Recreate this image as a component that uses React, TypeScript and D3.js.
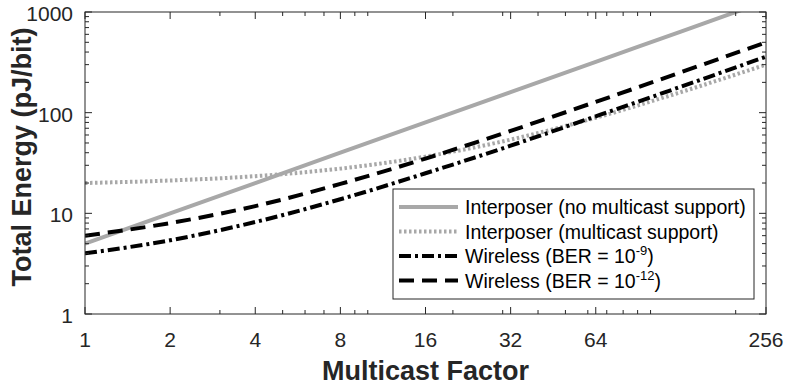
import { useEffect, useRef } from "react";
import * as d3 from "d3";

// multicast factor (x values)
const multicast = [1, 2, 4, 8, 16, 32, 64, 128, 256];
// energy in pJ/bit
const interposerNoMc = [5, 10, 20, 40, 80, 160, 320, 640, 1280];
const interposerMc = [20, 21.2, 23.4, 27.8, 36.6, 54, 89, 160, 300];
const wireless9 = [4, 5.4, 8.2, 13.8, 25, 47, 92, 181, 360];
const wireless12 = [6, 8, 11.8, 19.6, 35, 66, 128, 252, 500];

const xTicks = [1, 2, 4, 8, 16, 32, 64, 256];
const yTicks = [1, 10, 100, 1000];

const seriesNames = [
  "Interposer (no multicast support)",
  "Interposer (multicast support)",
  "Wireless (BER = 10",
  "Wireless (BER = 10",
];
const seriesSup = ["", "", "-9", "-12"];

const FONT = "'Liberation Sans', Arial, Helvetica, sans-serif";
const INK = "#262626";

const App = () => {
  const svgRef = useRef<SVGSVGElement>(null);

  useEffect(() => {
    const svg = d3.select(svgRef.current);
    svg.selectAll("*").remove();

    const margin = { top: 12, right: 22, bottom: 72, left: 85 };
    const W = 788,
      H = 386;
    const x0 = margin.left,
      x1 = W - margin.right,
      y0 = H - margin.bottom,
      y1 = margin.top;

    const x = d3.scaleLog().base(2).domain([1, 256]).range([x0, x1]);
    const y = d3.scaleLog().domain([1, 1000]).range([y0, y1]);

    // minor ticks (base-10 style, like matlab)
    const xMinor: number[] = [];
    [1, 10, 100].forEach((d) =>
      d3.range(1, 10).forEach((k) => {
        const v = d * k;
        if (v >= 1 && v <= 256 && !xTicks.includes(v)) xMinor.push(v);
      })
    );
    const yMinor: number[] = [];
    [1, 10, 100].forEach((d) =>
      d3.range(2, 10).forEach((k) => yMinor.push(d * k))
    );

    svg
      .append("defs")
      .append("clipPath")
      .attr("id", "plot-clip")
      .append("rect")
      .attr("x", x0)
      .attr("y", y1)
      .attr("width", x1 - x0)
      .attr("height", y0 - y1);

    // lines
    const series = [
      { vals: interposerNoMc, color: "#a8a8a8", dash: null, w: 4 },
      { vals: interposerMc, color: "#a8a8a8", dash: "2.5,2.5", w: 4 },
      { vals: wireless9, color: "#000", dash: "12,4,3,4", w: 4 },
      { vals: wireless12, color: "#000", dash: "15,8", w: 4 },
    ];

    const line = d3
      .line<number>()
      .x((_, i) => x(multicast[i]))
      .y((d) => y(d))
      .curve(d3.curveMonotoneX);

    const plot = svg.append("g").attr("clip-path", "url(#plot-clip)");
    series.forEach((s) => {
      plot
        .append("path")
        .attr("d", line(s.vals))
        .attr("fill", "none")
        .attr("stroke", s.color)
        .attr("stroke-width", s.w)
        .attr("stroke-dasharray", s.dash);
    });

    // axes box
    const ax = svg.append("g").attr("stroke", INK).attr("stroke-width", 1);
    ax.append("rect")
      .attr("x", x0)
      .attr("y", y1)
      .attr("width", x1 - x0)
      .attr("height", y0 - y1)
      .attr("fill", "none");

    const tick = (vx: number, vy: number, dx: number, dy: number) =>
      ax
        .append("line")
        .attr("x1", vx)
        .attr("y1", vy)
        .attr("x2", vx + dx)
        .attr("y2", vy + dy);

    xTicks.forEach((v) => {
      tick(x(v), y0, 0, -7);
      tick(x(v), y1, 0, 7);
    });
    xMinor.forEach((v) => {
      tick(x(v), y0, 0, -4);
      tick(x(v), y1, 0, 4);
    });
    yTicks.forEach((v) => {
      tick(x0, y(v), 7, 0);
      tick(x1, y(v), -7, 0);
    });
    yMinor.forEach((v) => {
      tick(x0, y(v), 4, 0);
      tick(x1, y(v), -4, 0);
    });

    // tick labels
    svg
      .append("g")
      .selectAll("text")
      .data(xTicks)
      .enter()
      .append("text")
      .attr("x", (d) => x(d))
      .attr("y", y0 + 33)
      .attr("text-anchor", "middle")
      .attr("font-family", FONT)
      .attr("font-size", "21px")
      .attr("fill", INK)
      .text((d) => d);

    svg
      .append("g")
      .selectAll("text")
      .data(yTicks)
      .enter()
      .append("text")
      .attr("x", x0 - 12)
      .attr("y", (d) => y(d) + 9)
      .attr("text-anchor", "end")
      .attr("font-family", FONT)
      .attr("font-size", "21px")
      .attr("fill", INK)
      .text((d) => d);

    // axis titles
    svg
      .append("text")
      .attr("x", (x0 + x1) / 2)
      .attr("y", 380)
      .attr("text-anchor", "middle")
      .attr("font-family", FONT)
      .attr("font-weight", "bold")
      .attr("font-size", "27px")
      .attr("fill", INK)
      .text("Multicast Factor");

    svg
      .append("text")
      .attr("transform", `translate(31,${(y0 + y1) / 2 - 6}) rotate(-90)`)
      .attr("text-anchor", "middle")
      .attr("font-family", FONT)
      .attr("font-weight", "bold")
      .attr("font-size", "27px")
      .attr("fill", INK)
      .text("Total Energy (pJ/bit)");

    // legend
    const lg = svg.append("g").attr("transform", "translate(393,189)");
    lg.append("rect")
      .attr("width", 361)
      .attr("height", 110)
      .attr("fill", "#fff")
      .attr("stroke", INK)
      .attr("stroke-width", 1);

    series.forEach((s, i) => {
      const row = lg.append("g").attr("transform", `translate(0,${18 + i * 24.5})`);
      row
        .append("line")
        .attr("x1", 6)
        .attr("x2", 65)
        .attr("stroke", s.color)
        .attr("stroke-width", s.w)
        .attr("stroke-dasharray", s.dash);
      const t = row
        .append("text")
        .attr("x", 72)
        .attr("y", 7)
        .attr("font-family", FONT)
        .attr("font-size", "19.5px")
        .attr("fill", "#000")
        .text(seriesNames[i]);
      if (seriesSup[i]) {
        t.append("tspan")
          .attr("dy", -8)
          .attr("font-size", "13px")
          .text(seriesSup[i]);
        t.append("tspan").attr("dy", 8).text(")");
      }
    });
  }, []);

  return (
    <svg
      ref={svgRef}
      width="788"
      height="386"
      style={{ position: "absolute", left: 0, top: 0, background: "#fff" }}
    />
  );
};

export default App;
